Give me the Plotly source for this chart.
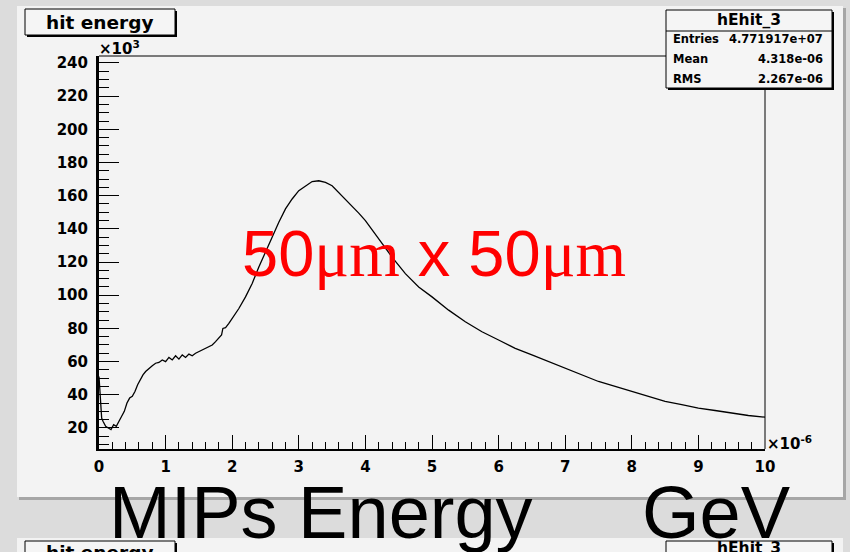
import plotly.graph_objects as go

# ---------------- data ----------------
# energy in units of 1e-6 GeV, counts in units of 1e3
energy = [0, 0.02, 0.04, 0.06, 0.08, 0.1, 0.14, 0.18, 0.22, 0.26, 0.3, 0.34, 0.38,
          0.42, 0.46, 0.5, 0.54, 0.58, 0.62, 0.66, 0.7, 0.75, 0.8, 0.85, 0.9, 0.95,
          1.0, 1.05, 1.1, 1.15, 1.2, 1.25, 1.3, 1.35, 1.4, 1.45, 1.5, 1.55, 1.6,
          1.65, 1.7, 1.75, 1.8, 1.84, 1.86, 1.9, 1.95, 2.0, 2.1, 2.2, 2.3, 2.4,
          2.5, 2.6, 2.7, 2.8, 2.9, 3.0, 3.1, 3.2, 3.3, 3.4, 3.5, 3.6, 3.7, 3.8,
          3.9, 4.0, 4.2, 4.4, 4.6, 4.8, 5.0, 5.25, 5.5, 5.75, 6.0, 6.25, 6.5,
          6.75, 7.0, 7.25, 7.5, 7.75, 8.0, 8.25, 8.5, 8.75, 9.0, 9.25, 9.5, 9.75,
          10.0]
counts = [51, 38, 26, 24, 22, 21, 20, 19, 22, 21, 24, 27, 30,
          35, 38, 39, 42, 46, 49, 52, 54, 56, 57.5, 59, 59.5, 61,
          60, 62.5, 61, 63.5, 61.5, 64, 62.5, 64.5, 63.5, 65, 66, 66.5, 67.5,
          68.5, 70, 72, 74, 76, 80, 80.5, 83, 86, 92, 99, 107, 117,
          126, 136, 144, 152, 158, 163, 166, 168.5, 169, 168, 166, 162, 158, 154,
          149.5, 145, 134, 123, 113, 105, 99, 91, 84, 78, 73, 68, 64,
          60, 56, 52, 48, 45, 42, 39, 36, 34, 32, 30.5, 29, 27.5,
          26.5]

x_tick_vals = [0, 1, 2, 3, 4, 5, 6, 7, 8, 9, 10]
y_tick_vals = [20, 40, 60, 80, 100, 120, 140, 160, 180, 200, 220, 240]

hist_title = "hit energy"
hist_name = "hEhit_3"
stats_labels = ["Entries", "Mean", "RMS"]
stats_values = ["4.771917e+07", "4.318e-06", "2.267e-06"]
overlay_label = ('50<span style="font-family:Liberation Serif">μm</span> x '
                 '50<span style="font-family:Liberation Serif">μm</span>')
bottom_words = ["MIPs Energy", "GeV"]

# ---------------- geometry helpers ----------------
W, H = 850, 552
L, R, T, B = 99, 765, 56, 449


def fx(x):
    return (x - L) / (R - L)


def fy(y):
    return (B - y) / (B - T)


shapes = []


def rect(x0, y0, x1, y1, fill=None, line_color=None, lw=1, layer="above"):
    shapes.append(dict(type="rect", xref="paper", yref="paper",
                       x0=fx(x0), x1=fx(x1), y0=fy(y1), y1=fy(y0),
                       fillcolor=fill if fill else "rgba(0,0,0,0)",
                       line=dict(color=line_color if line_color else "rgba(0,0,0,0)",
                                 width=lw if line_color else 0),
                       layer=layer))


def line(x0, y0, x1, y1, color="black", lw=1, layer="above"):
    shapes.append(dict(type="line", xref="paper", yref="paper",
                       x0=fx(x0), x1=fx(x1), y0=fy(y0), y1=fy(y1),
                       line=dict(color=color, width=lw), layer=layer))


# pads
rect(17, 6, 843, 497, fill="#f3f3f3", layer="below")
rect(843, 8, 846, 500, fill="#a6a6a6", layer="below")
rect(19, 497, 846, 500, fill="#a6a6a6", layer="below")
rect(17, 538, 843, 560, fill="#f3f3f3", layer="below")

# frame top / right
line(L, T, R, T, lw=1)
line(R, T, R, B, lw=1)

# title box
rect(27, 11, 177, 37, fill="black")
rect(25, 9, 175, 35, fill="#f5f5f5", line_color="black", lw=1)
# stats box
rect(668, 12, 834, 90, fill="black")
rect(666, 10, 832, 88, fill="#f5f5f5", line_color="black", lw=1)
line(666, 31, 832, 31, lw=1)

# second pad boxes (cut by the page edge)
rect(27, 543, 177, 575, fill="black")
rect(25, 541, 175, 573, fill="#f5f5f5", line_color="black", lw=1)
rect(668, 543, 834, 620, fill="black")
rect(666, 541, 832, 618, fill="#f5f5f5", line_color="black", lw=1)

root_font = lambda s: dict(family="DejaVu Sans", size=s, color="black", weight="bold")

ann = []


def text(x, y, s, font, xa="center", ya="middle"):
    ann.append(dict(x=fx(x), y=fy(y), xref="paper", yref="paper", text=s,
                    showarrow=False, xanchor=xa, yanchor=ya, font=font,
                    borderpad=0))


text(100, 22, hist_title, root_font(18.5))
text(749, 20, hist_name, root_font(15.5))
for i, (lab, val) in enumerate(zip(stats_labels, stats_values)):
    yy = 39 + 20 * i
    text(672, yy, lab, root_font(11.5), xa="left")
    text(824, yy, val, root_font(11.5), xa="right")

text(100, 552, hist_title, root_font(18.5))
text(749, 548, hist_name, root_font(15.5))

text(98, 48, "×10<sup>3</sup>", root_font(15), xa="left")
text(766, 443, "×10<sup>-6</sup>", root_font(15), xa="left")

text(434, 253, overlay_label,
     dict(family="Liberation Sans", size=65, color="#ff0000"))

text(108, 512, bottom_words[0], dict(family="Liberation Sans", size=74, color="black"), xa="left")
text(641, 512, bottom_words[1], dict(family="Liberation Sans", size=74, color="black"), xa="left")

fig = go.Figure()
fig.add_trace(go.Scatter(x=energy, y=counts, mode="lines",
                         line=dict(color="black", width=1.3),
                         hoverinfo="skip", showlegend=False))

fig.update_layout(
    width=W, height=H,
    margin=dict(l=L, r=W - R, t=T, b=H - B, pad=0),
    paper_bgcolor="#dcdcdc",
    plot_bgcolor="#f3f3f3",
    showlegend=False,
    hovermode=False,
    shapes=shapes,
    annotations=ann,
    xaxis=dict(range=[0, 10], tickvals=x_tick_vals, ticktext=[str(v) for v in x_tick_vals],
               ticks="inside", ticklen=14, tickwidth=1, tickcolor="black",
               minor=dict(ticks="inside", ticklen=7, dtick=0.2, tick0=0, tickcolor="black",
                          showgrid=False),
               showline=True, linecolor="black", linewidth=2,
               showgrid=False, zeroline=False,
               tickfont=root_font(15), ticklabelstandoff=3),
    yaxis=dict(range=[7.3, 244.2], tickvals=y_tick_vals, ticktext=[str(v) for v in y_tick_vals],
               ticks="inside", ticklen=20, tickwidth=1, tickcolor="black",
               minor=dict(ticks="inside", ticklen=10, dtick=5, tick0=0, tickcolor="black",
                          showgrid=False),
               showline=True, linecolor="black", linewidth=3,
               showgrid=False, zeroline=False,
               tickfont=root_font(15), ticklabelstandoff=5),
)

fig.write_html("out.html",
               config={"displayModeBar": False, "staticPlot": True},
               post_script="document.body.style.margin='0';document.body.style.overflow='hidden';")
